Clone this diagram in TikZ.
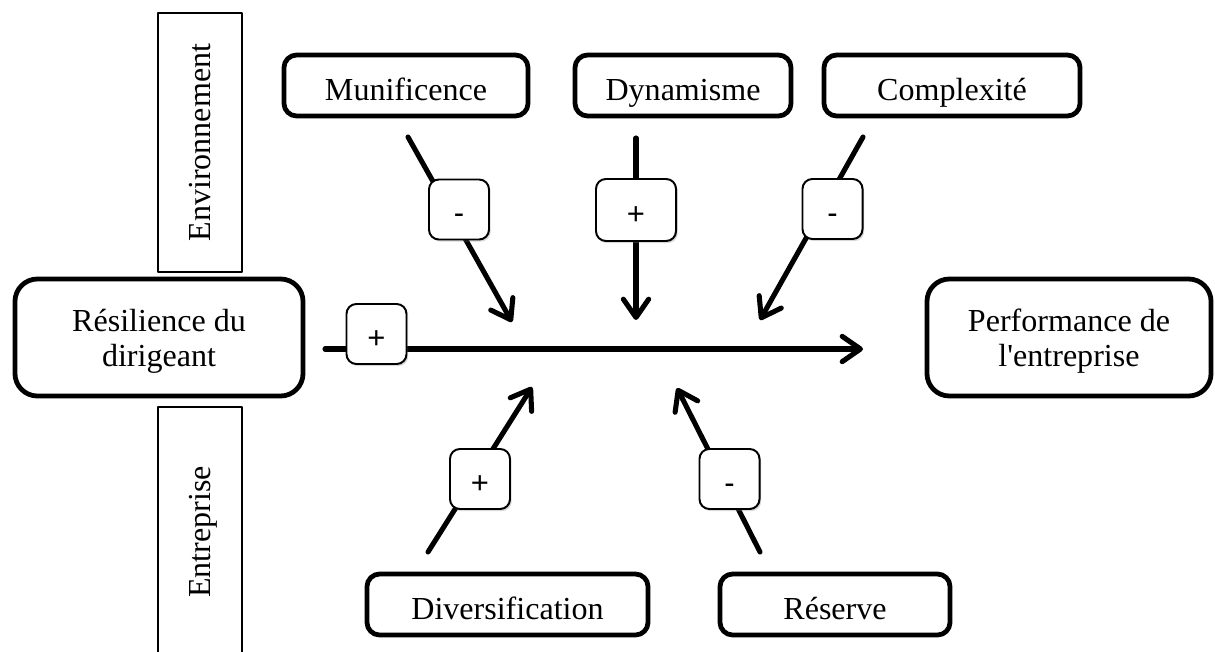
\documentclass[tikz,border=0pt]{standalone}
\usepackage{fontspec}
\setmainfont{Liberation Serif}
\newfontfamily\signfont{Liberation Sans}
\usetikzlibrary{arrows.meta,shadows}
\tikzset{
  bloc/.style={draw,line width=3.4pt,rounded corners=9pt,inner sep=0pt,minimum height=1.525cm,
    font=\fontsize{22.8}{25}\selectfont,text height=0.725cm,text depth=0pt},
  grandbloc/.style={draw,line width=3.4pt,rounded corners=16pt,inner sep=0pt,minimum height=2.925cm,
    align=center,font=\fontsize{22.8}{25}\selectfont,text depth=0pt},
  signe/.style={draw,line width=1.4pt,rounded corners=7pt,fill=white,inner sep=0pt,
    minimum width=1.5cm,minimum height=1.5cm,font=\signfont\fontsize{22}{24}\selectfont,
    text height=0.7cm,text depth=0pt,
    drop shadow={shadow xshift=1.2pt,shadow yshift=-1.5pt,opacity=0.3}},
  cadre/.style={draw,line width=1.1pt,inner sep=0pt,minimum height=2.1cm,
    font=\fontsize{22.8}{25}\selectfont,text depth=0pt},
  fleche/.style={line width=3.6pt,line cap=round,-{Straight Barb[round,length=13pt,width=18pt]}}
}
\begin{document}
\begin{tikzpicture}[line cap=round,line join=round,x=0.025cm,y=-0.025cm]
\useasboundingbox (0,0) rectangle (1215,651);
% cadres verticaux
\node[cadre,rotate=90,minimum width=6.475cm] (env) at (200,142.5) {Environnement};
\node[cadre,rotate=90,minimum width=6.25cm] (ent) at (200,532) {Entreprise};
% blocs
\node[bloc,minimum width=6.1cm] (muni) at (406,85.5) {Munificence};
\node[bloc,minimum width=5.4cm] (dyna) at (683,85.5) {Dynamisme};
\node[bloc,minimum width=6.4cm] (compl) at (952,85.5) {Complexité};
\node[grandbloc,minimum width=7.2cm] (resil) at (159,337.5) {Résilience du\\dirigeant};
\node[grandbloc,minimum width=7.1cm] (perf) at (1069,337.5) {Performance de\\l\textquotesingle entreprise};
\node[bloc,minimum width=7.025cm] (diver) at (507.5,604.5) {Diversification};
\node[bloc,minimum width=5.75cm] (reserve) at (835,604.5) {Réserve};
% extremites des fleches
\coordinate (r1) at (325,349);   \coordinate (r2) at (863,349);
\coordinate (m1) at (408,137);   \coordinate (m2) at (512,322);
\coordinate (d1) at (636,138);   \coordinate (d2) at (636,320);
\coordinate (c1) at (863,137);   \coordinate (c2) at (760,320);
\coordinate (v1) at (428,552);   \coordinate (v2) at (532,387);
\coordinate (e1) at (760,552);   \coordinate (e2) at (677,388);
\draw[fleche] (r1) -- (r2);
\draw[fleche] (m1) -- (m2);
\draw[fleche] (d1) -- (d2);
\draw[fleche] (c1) -- (c2);
\draw[fleche] (v1) -- (v2);
\draw[fleche] (e1) -- (e2);
% signes
\node[signe] (sresil) at (376.5,334) {+};
\node[signe] (smuni) at (459,209.5) {-};
\node[signe,minimum width=2cm,minimum height=1.55cm] (sdyna) at (636,210) {+};
\node[signe] (scompl) at (832.5,209) {-};
\node[signe] (sdiver) at (480,479) {+};
\node[signe] (sreserve) at (729.5,479) {-};
\end{tikzpicture}
\end{document}
